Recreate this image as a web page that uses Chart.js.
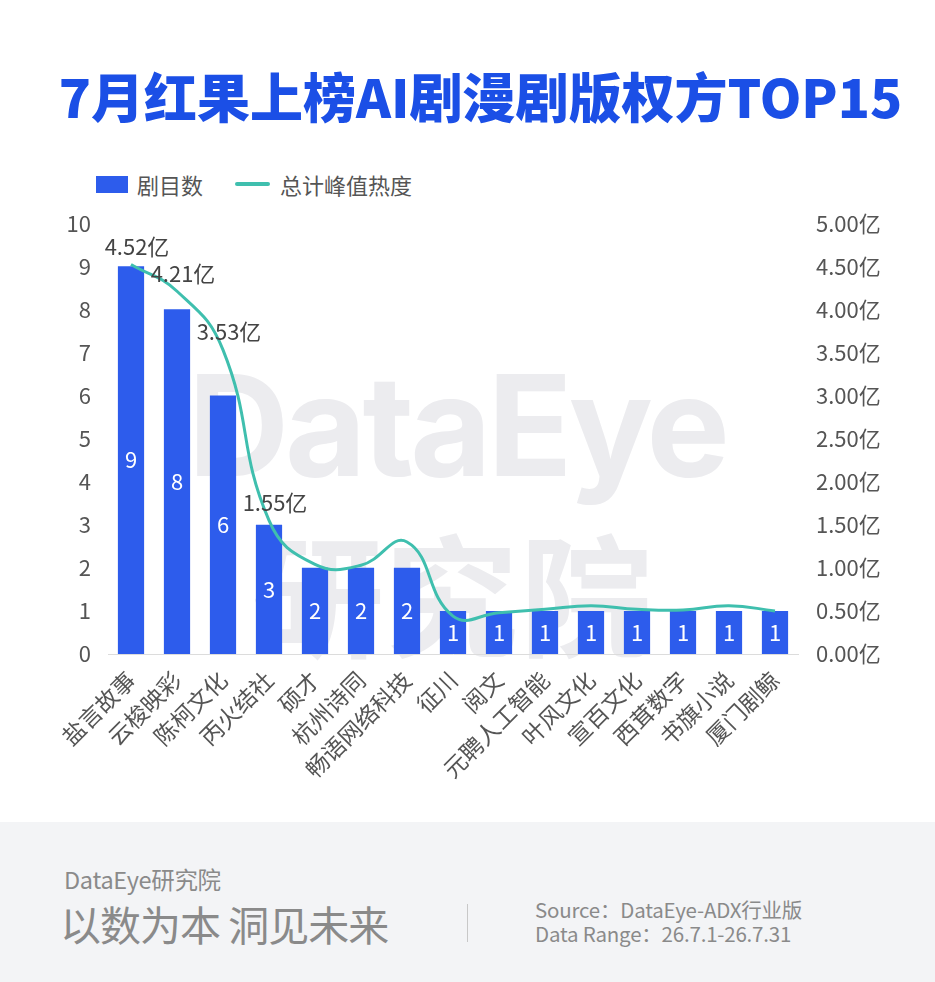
<!DOCTYPE html><html lang="zh"><head><meta charset="utf-8"/>
<title>7月红果上榜AI剧漫剧版权方TOP15</title>
<script src="https://cdn.jsdelivr.net/npm/chart.js@4.4.1/dist/chart.umd.min.js"></script>
<style>
  *{box-sizing:border-box;margin:0;padding:0}
  body{width:935px;height:982px;background:#fff;font-family:"Noto Sans CJK SC","Noto Sans",sans-serif;position:relative;overflow:hidden}
  h1{position:absolute;top:57px;left:13px;width:935px;text-align:center;font-size:53px;font-weight:900;color:#1b4fe6}
  .legend{position:absolute;top:168px;left:96px;display:flex;align-items:center;font-size:22px;color:#555}
  .legend .box{width:32px;height:17px;background:#2d5cec;margin-right:9px}
  .legend .ln{width:35px;height:4px;border-radius:2px;background:#3fbfae;margin:0 10px 0 32px}
  .wm{position:absolute;color:#ececef;font-weight:700;white-space:nowrap;pointer-events:none}
  .wm1{top:340px;left:188px;font-size:140px;font-family:Inter,"Noto Sans",sans-serif;letter-spacing:-4px}
  .wm2{top:494px;left:252px;font-size:132px;letter-spacing:2px}
  #wrap{position:absolute;top:200px;left:0;width:935px;height:620px}
  .foot{position:absolute;top:822px;left:0;width:935px;height:160px;background:#f3f4f6;color:#8a8a8a}
  .foot .a{position:absolute;left:64px;top:40px;font-size:23.5px;letter-spacing:-0.3px}
  .foot .b{position:absolute;left:60px;top:71px;font-size:41px;letter-spacing:-1px}
  .foot .sep{position:absolute;left:467px;top:82px;width:1px;height:38px;background:#c8c8c8}
  .foot .c{position:absolute;left:535px;top:75px;font-size:20.5px;line-height:24px;letter-spacing:-0.2px}
</style></head><body>
<h1>7月红果上榜AI剧漫剧版权方TOP15</h1>
<div class="legend"><span class="box"></span>剧目数<span class="ln"></span>总计峰值热度</div>
<div class="wm wm1">DataEye</div>
<div class="wm wm2">研究院</div>
<div id="wrap"><canvas id="c"></canvas></div>
<div class="foot">
  <div class="a">DataEye研究院</div>
  <div class="b">以数为本 洞见未来</div>
  <div class="sep"></div>
  <div class="c">Source：DataEye-ADX行业版<br/>Data Range：26.7.1-26.7.31</div>
</div>
<script>
// data
const companies = ['盐言故事','云梭映彩','陈柯文化','丙火结社','硕才','杭州诗同','畅语网络科技','征川','阅文','元聘人工智能','叶风文化','宣百文化','西茸数字','书旗小说','厦门剧鲸'];
const dramaCount = [9,8,6,3,2,2,2,1,1,1,1,1,1,1,1];
const peakHeat = [4.52,4.21,3.53,1.55,1.04,1.03,1.30,0.44,0.48,0.52,0.56,0.52,0.51,0.56,0.50]; // 亿
const leftTicks = [0,1,2,3,4,5,6,7,8,9,10];
const rightTicks = [0,0.5,1,1.5,2,2.5,3,3.5,4,4.5,5];
const LABEL_MIN = 1.5; // only the big heat values carry a label

const BLUE = '#2d5cec', TEAL = '#3fbfae', INK = '#555';
const FONT = '"Noto Sans CJK SC","Noto Sans",sans-serif';

const valueLabels = {
  id:'valueLabels',
  afterDatasetsDraw(chart){
    const ctx = chart.ctx;
    ctx.save();
    ctx.font = '22px ' + FONT;
    ctx.textAlign = 'center'; ctx.textBaseline = 'middle';
    chart.getDatasetMeta(1).data.forEach((b,i)=>{
      ctx.fillStyle = '#fff';
      ctx.fillText(dramaCount[i], b.x, (b.y + b.base)/2);
    });
    chart.getDatasetMeta(0).data.forEach((p,i)=>{
      if(peakHeat[i] < LABEL_MIN) return;
      ctx.fillStyle = '#444';
      ctx.fillText(peakHeat[i].toFixed(2)+'亿', p.x + 6, p.y - 18);
    });
    ctx.restore();
  }
};

new Chart(document.getElementById('c'), {
  data:{
    labels:companies,
    datasets:[
      {type:'line',label:'总计峰值热度',data:peakHeat,yAxisID:'y1',borderColor:TEAL,borderWidth:3,
       pointRadius:0,tension:0.45,order:0},
      {type:'bar',label:'剧目数',data:dramaCount,yAxisID:'y',backgroundColor:BLUE,
       barPercentage:0.57,categoryPercentage:1,order:1}
    ]
  },
  options:{
    responsive:true,maintainAspectRatio:false,animation:false,
    layout:{padding:{top:22,left:0,right:0,bottom:0}},
    plugins:{legend:{display:false},tooltip:{enabled:false}},
    scales:{
      x:{grid:{display:false},border:{color:'#dcdcdc'},
         ticks:{color:INK,font:{size:23,family:FONT},minRotation:45,maxRotation:45,padding:4,autoSkip:false},
         afterFit(s){ s.height = 166; }},
      y:{position:'left',min:0,max:10,grid:{display:false},border:{display:false},
         afterBuildTicks(s){ s.ticks = leftTicks.map(v=>({value:v})); },
         ticks:{color:INK,font:{size:22,family:FONT},padding:9},
         afterFit(s){ s.width = 108; }},
      y1:{position:'right',min:0,max:5,grid:{display:false},border:{display:false},
         afterBuildTicks(s){ s.ticks = rightTicks.map(v=>({value:v})); },
         ticks:{color:INK,font:{size:22,family:FONT},padding:10,callback:v=>v.toFixed(2)+'亿'},
         afterFit(s){ s.width = 137; }}
    }
  },
  plugins:[valueLabels]
});
</script></body></html>
